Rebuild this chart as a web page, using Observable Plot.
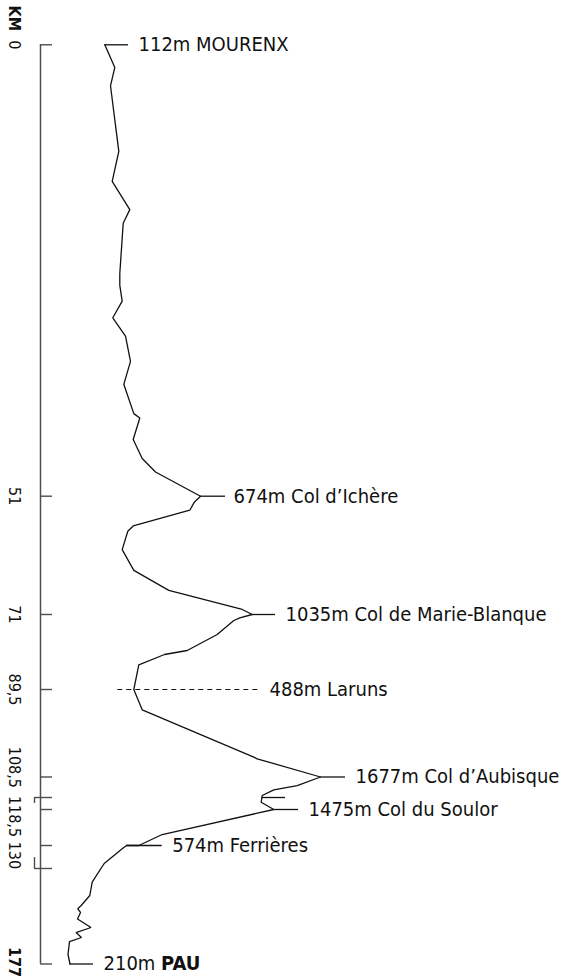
<!DOCTYPE html>
<html><head><meta charset="utf-8">
<script src="https://cdn.jsdelivr.net/npm/d3@7"></script>
<script src="https://cdn.jsdelivr.net/npm/@observablehq/plot@0.6"></script>
<style>
body{margin:0;background:#fff;}
#chart svg{display:block;}
</style>
</head><body><div id="chart"></div>
<script>
// Route profile (schematic): distance in km (y) and schematic altitude offset (x)
const profileKm = [0,2.56,4.63,12.04,15.42,18.62,20.16,25.87,27.19,28.96,30.84,32.91,35.77,38.36,41.67,42.16,44.60,46.75,48.26,
  51,51.97,53.37,56.03,56.93,60.03,63.54,66.93,70.15,
  71,71.81,72.48,75.93,79.88,80.87,83.41,
  89.5,93.91,104.20,104.55,
  108.5,111.12,112.44,114.19,116.25,
  118.5,126.49,
  130,130,131.31,137.02,138.33,144.56,149.83,153.80,155.11,156.57,159.15,162.52,164.51,166.49,168.08,173.23,177];
const profileX = [64.3,74.3,70,78.3,71.7,89.3,82.7,79.3,79.3,81.7,72.3,85,90,83.3,93.3,99.3,92.7,101.7,115,
  160,154,149.3,92.7,87.3,81.7,93.3,128.3,201.7,
  211.7,199.3,193.3,176.7,146.7,124,98.3,
  93.3,101.7,213.3,216.7,
  280,256.7,233.3,221.7,220.7,
  233.3,121.7,
  98.3,86,81.7,64,61.7,51.7,49.3,40.7,37.3,40,37,50.5,35.5,41,29,27.5,29.5];

// Axis ticks (km)
const tickKm = [0,51,71,89.5,108.5,118.5,130,177];
const tickPx = [44.3,495.7,614,689,776.5,809,845,963.5];
const axisLabelKm = [-3,0,51,71,89.5,106.4,125.85,176.2];
const axisLabelText = ["KM","0","51","71","89,5","108,5","118,5 130","177"];
const axisLabelBold = [true,false,false,false,false,false,false,true];
const bracketKm = [114.81,139.12];

// Landmarks
const landmarkKm = [0,51,71,89.5,108.5,118.5,130,177];
const landmarkAlt = [112,674,1035,488,1677,1475,574,210];
const landmarkName = ["MOURENX","Col d’Ichère","Col de Marie-Blanque","Laruns","Col d’Aubisque","Col du Soulor","Ferrières","PAU"];
const landmarkBoldName = [false,false,false,false,false,false,false,true];
const leaderStart = [64.3,160,211.7,77.3,280,233.3,86,29.5];
const leaderEnd = [88,185,235,220,305,258,121.7,53];
const labelX = [98,193,245,229,315,268,131.7,63];
const leaderDashed = [false,false,false,true,false,false,false,false];
const extraKm = [114.81], extraX1 = [221.7], extraX2 = [245];

const profile = profileKm.map((k,i)=>({km:k, x:profileX[i]}));
const landmarks = landmarkKm.map((k,i)=>({km:k, alt:landmarkAlt[i], name:landmarkName[i], x1:leaderStart[i], x2:leaderEnd[i], lx:labelX[i], dashed:leaderDashed[i], bold:landmarkBoldName[i]}));
const axisLabels = axisLabelKm.map((k,i)=>({km:k, text:axisLabelText[i], bold:axisLabelBold[i]}));

const FONT = "'Liberation Sans Narrow','Arial Narrow','DejaVu Sans Condensed',sans-serif";
const AXIS = "#4d4d4d";

const chart = Plot.plot({
  width: 563, height: 976,
  margin: 0,
  style: {fontFamily: FONT, background: "#fff", overflow: "visible"},
  x: {type: "linear", domain: [0, 523], range: [40, 563], axis: null},
  y: {type: "linear", domain: tickKm, range: tickPx, axis: null},
  marks: [
    // axis line
    Plot.ruleX([0], {y1: 0, y2: 177, stroke: AXIS, strokeWidth: 1.5}),
    Plot.ruleY(tickKm, {y: d=>d, x1: 0, x2: 12, stroke: AXIS, strokeWidth: 1.4}),
    Plot.ruleY(bracketKm, {y: d=>d, x1: -6, x2: 12, stroke: AXIS, strokeWidth: 1.4}),
    Plot.ruleX([{a:bracketKm[0], b:116.65},{a:134.76, b:bracketKm[1]}], {x: -6, y1: "a", y2: "b", stroke: AXIS, strokeWidth: 1.4}),
    Plot.text(axisLabels.filter(d=>!d.bold), {x: 0, dx: -26.5, y: "km", text: "text", rotate: 90, fontSize: 16, fill: "#111", textAnchor: "middle", lineAnchor: "middle"}),
    Plot.text(axisLabels.filter(d=>d.bold), {x: 0, dx: -26.5, y: "km", text: "text", rotate: 90, fontSize: 16, fontWeight: "bold", fill: "#111", textAnchor: "middle", lineAnchor: "middle"}),
    // leaders
    Plot.ruleY(landmarks.filter(d=>!d.dashed), {y: "km", x1: "x1", x2: "x2", stroke: "#111", strokeWidth: 1.3}),
    Plot.ruleY(landmarks.filter(d=>d.dashed), {y: "km", x1: "x1", x2: "x2", stroke: "#111", strokeWidth: 1.2, strokeDasharray: "5,4"}),
    Plot.ruleY(extraKm.map((k,i)=>({km:k, a:extraX1[i], b:extraX2[i]})), {y: "km", x1: "a", x2: "b", stroke: "#111", strokeWidth: 1.3}),
    // profile
    Plot.line(profile, {x: "x", y: "km", stroke: "#111", strokeWidth: 1.3, strokeLinejoin: "miter", curve: "linear"}),
    // labels
    Plot.text(landmarks, {x: "lx", y: "km", text: d => `${d.alt}m ${d.name}`, textAnchor: "start", lineAnchor: "middle", fontSize: 20, fill: "#111"})
  ]
});

// mixed-weight label (e.g. "210m PAU")
d3.select(chart).selectAll("text").each(function(){
  const t = this.textContent;
  const lm = landmarks.find(d => d.bold && t === `${d.alt}m ${d.name}`);
  if (lm) {
    const sel = d3.select(this);
    sel.text(null);
    sel.append("tspan").text(`${lm.alt}m `);
    sel.append("tspan").attr("font-weight","bold").text(lm.name);
  }
});
document.getElementById("chart").appendChild(chart);
</script>
</body></html>
